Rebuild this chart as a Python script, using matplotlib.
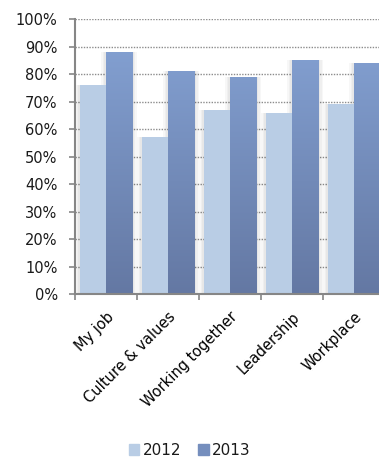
import numpy as np
import matplotlib.pyplot as plt
from matplotlib.ticker import PercentFormatter
from matplotlib.patches import Patch

categories = ["My job", "Culture & values", "Working together", "Leadership", "Workplace"]
values_2012 = [76, 57, 67, 66, 69]
values_2013 = [88, 81, 79, 85, 84]
series_labels = ["2012", "2013"]

plt.rcParams["font.family"] = ["DejaVu Sans"]
plt.rcParams["text.color"] = "#1A1A1A"

fig = plt.figure(figsize=(3.79, 4.58), dpi=100)
ax = fig.add_axes([0.198, 0.358, 0.818, 0.6005])

x = np.arange(len(categories))
w = 0.42
c12 = "#B9CDE5"
top13 = np.array([0x86, 0xA4, 0xD6]) / 255
bot13 = np.array([0x64, 0x78, 0xA3]) / 255

# soft shadow around each bar
for xs, vals in ((x - w / 2, values_2012), (x + w / 2, values_2013)):
    for dx in (0.03, 0.055, 0.08):
        ax.bar(xs, vals, width=w + 2 * dx, color="#000000", alpha=0.03,
               zorder=1.5, linewidth=0)

ax.bar(x - w / 2, values_2012, width=w, color=c12, zorder=2.2, linewidth=0)
bars13 = ax.bar(x + w / 2, values_2013, width=w, color="none", zorder=2, linewidth=0)

# vertical gradient for 2013 bars
grad = np.linspace(0, 1, 256)[:, None]
img = bot13[None, None, :] * (1 - grad[:, :, None]) + top13[None, None, :] * grad[:, :, None]
for b in bars13:
    im = ax.imshow(img, extent=[b.get_x(), b.get_x() + b.get_width(), 0, 100],
                   origin="lower", aspect="auto", zorder=2.1)
    im.set_clip_path(b)

ax.set_xlim(-0.5, len(categories) - 0.5)
ax.set_ylim(0, 100)
ax.set_yticks(np.arange(0, 101, 10))
ax.yaxis.set_major_formatter(PercentFormatter(decimals=0))
ax.yaxis.grid(True, linestyle=(0, (1.0, 1.0)), color="#8C8C8C", linewidth=1.0, zorder=0)
ax.set_axisbelow(True)

ax.set_xticks(np.arange(-0.5, len(categories), 1.0))
ax.set_xticklabels([])
ax.set_xticks(x, minor=True)
ax.set_xticklabels(categories, minor=True, rotation=45, ha="right", va="top",
                   rotation_mode="anchor", fontsize=10.5)
ax.tick_params(axis="x", which="minor", length=0, pad=11)
ax.tick_params(axis="x", which="major", length=4, color="#868686", width=1.2)
ax.tick_params(axis="y", length=4.5, color="#868686", width=1.2, labelsize=10.5,
               pad=8, labelcolor="#1A1A1A")

for s in ("top", "right"):
    ax.spines[s].set_visible(False)
for s in ("left", "bottom"):
    ax.spines[s].set_color("#868686")
    ax.spines[s].set_linewidth(1.5)

handles = [Patch(color=c12), Patch(color=(top13 + bot13) / 2)]
fig.legend(handles, series_labels, loc="center", bbox_to_anchor=(0.5, 0.016),
           ncol=2, frameon=False, fontsize=11, handlelength=0.7, handleheight=0.7,
           handletextpad=0.2, columnspacing=1.1)

fig.savefig("out.png", dpi=100)
